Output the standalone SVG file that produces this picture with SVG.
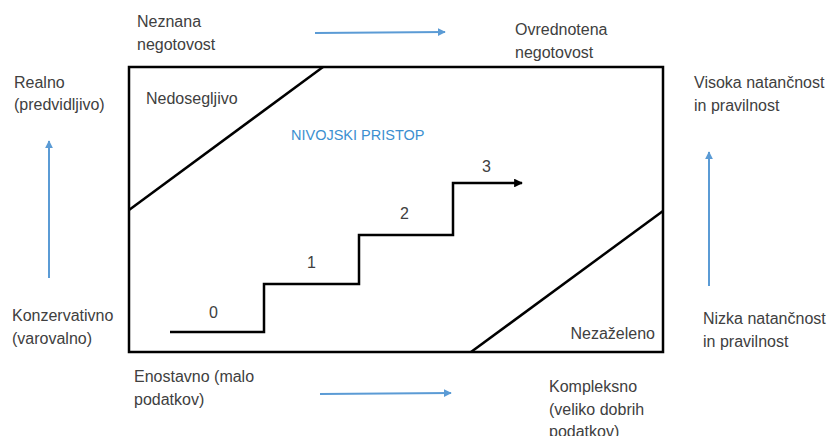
<svg xmlns="http://www.w3.org/2000/svg" width="836" height="436" viewBox="0 0 836 436">
<defs>
<style>
.t{font-family:"Liberation Sans",Arial,sans-serif;font-size:16px;fill:#404040}
.b{font-family:"Liberation Sans",Arial,sans-serif;font-size:14.5px;fill:#3c8fd0}
.k{fill:none;stroke:#000;stroke-width:2.5}
.ba{fill:none;stroke:#5b9bd5;stroke-width:2}
</style>
<marker id="ab" viewBox="0 0 10 10" refX="9" refY="5" markerWidth="4" markerHeight="4" orient="auto"><path d="M0,0 L10,5 L0,10 z" fill="#5b9bd5"/></marker>
<marker id="ak" viewBox="0 0 10 10" refX="9" refY="5" markerWidth="3.5" markerHeight="3.5" orient="auto"><path d="M0,0 L10,5 L0,10 z" fill="#000"/></marker>
</defs>
<rect width="836" height="436" fill="#fff"/>
<g id="frame">
<rect x="129" y="67" width="534" height="285" class="k" stroke-width="3"/>
<line x1="323" y1="67" x2="129" y2="210" class="k"/>
<line x1="663" y1="211" x2="471" y2="352" class="k"/>
</g>
<g id="stairs">
<path d="M170,332 H264 V284 H359 V235 H453 V183 H522" class="k" marker-end="url(#ak)"/>
<text class="t" x="209" y="318">0</text>
<text class="t" x="307" y="268">1</text>
<text class="t" x="400" y="219">2</text>
<text class="t" x="482" y="172">3</text>
</g>
<g id="connectors">
<line x1="315" y1="33" x2="445" y2="32" class="ba" marker-end="url(#ab)"/>
<line x1="320" y1="394" x2="451" y2="393" class="ba" marker-end="url(#ab)"/>
<line x1="49" y1="278" x2="49" y2="141" class="ba" marker-end="url(#ab)"/>
<line x1="709" y1="286" x2="709" y2="152" class="ba" marker-end="url(#ab)"/>
</g>
<g id="labels">
<text class="t" x="137" y="27">Neznana<tspan x="137" y="50">negotovost</tspan></text>
<text class="t" x="515" y="35">Ovrednotena<tspan x="515" y="58">negotovost</tspan></text>
<text class="t" x="14" y="88">Realno<tspan x="14" y="110">(predvidljivo)</tspan></text>
<text class="t" x="146" y="104">Nedosegljivo</text>
<text class="b" x="291" y="140">NIVOJSKI PRISTOP</text>
<text class="t" x="694" y="88">Visoka natančnost<tspan x="694" y="111">in pravilnost</tspan></text>
<text class="t" x="12" y="321">Konzervativno<tspan x="12" y="344">(varovalno)</tspan></text>
<text class="t" x="134" y="382">Enostavno (malo<tspan x="134" y="405">podatkov)</tspan></text>
<text class="t" x="655" y="339" text-anchor="end">Nezaželeno</text>
<text class="t" x="703" y="324">Nizka natančnost<tspan x="703" y="347">in pravilnost</tspan></text>
<text class="t" x="549" y="392">Kompleksno<tspan x="549" y="415">(veliko dobrih</tspan><tspan x="549" y="437">podatkov)</tspan></text>
</g>
</svg>
